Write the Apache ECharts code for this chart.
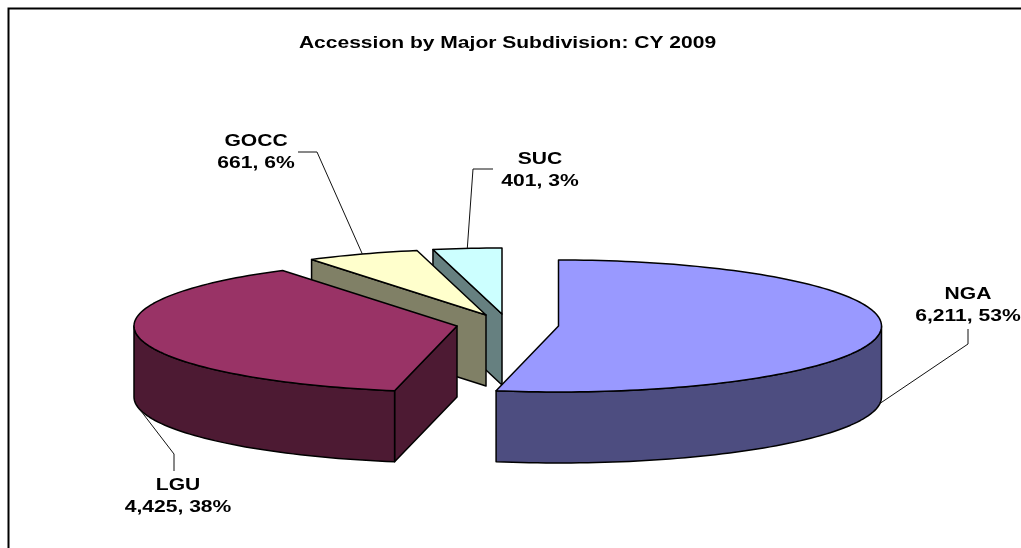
<!DOCTYPE html>
<html><head><meta charset="utf-8">
<style>html,body{margin:0;padding:0;background:#fff}#c{width:1021px;height:548px}</style>
<script src="https://cdn.jsdelivr.net/npm/echarts@6/dist/echarts.min.js"></script>
</head><body><div id="c"></div>
<script>
const titleText = 'Accession by Major Subdivision: CY 2009';
const categories = ['NGA', 'LGU', 'GOCC', 'SUC'];
const seriesValues = [6211, 4425, 661, 401];
const topColors = ['#9999FF', '#993366', '#FFFFCC', '#CCFFFF'];
const sideColors = ['#4D4D80', '#4D1A33', '#808066', '#668080'];

const layout = {
  rx: 323, ry: 66, depth: 71,
  centers: [[558.5, 326], [457, 326], [486, 315], [502, 314]],
  elbows: [[[968, 344], [968, 329]], [[174, 454], [174, 471]], [[317, 152], [298, 152]], [[473, 169], [493, 169]]],
  labels: [[968, 305], [178, 496], [256, 152], [540, 170]],
  drawOrder: [3, 2, 0, 1]
};
const total = seriesValues.reduce((a, b) => a + b, 0);
const starts = [];
seriesValues.reduce((acc, v, i) => { starts[i] = acc; return acc + v / total * 360; }, 0);
const rad = d => d * Math.PI / 180;

function pt(c, deg, dy) {
  return [c[0] + layout.rx * Math.sin(rad(deg)), c[1] - layout.ry * Math.cos(rad(deg)) + (dy || 0)];
}
function arcPts(c, a, b, dy) {
  const n = Math.max(2, Math.ceil(Math.abs(b - a) / 1.5));
  const out = [];
  for (let i = 0; i <= n; i++) out.push(pt(c, a + (b - a) * i / n, dy));
  return out;
}
const stroke = { stroke: '#000', lineWidth: 1.5, lineJoin: 'round' };

function renderItem(params, api) {
  const i = params.dataIndex;
  const a = starts[i], b = a + api.value(1) / total * 360;
  const c = layout.centers[i], d = layout.depth;
  const base = 10 + layout.drawOrder.indexOf(i) * 10;
  const kids = [];
  const poly = (points, fill, z) => kids.push({
    type: 'polygon', z2: base + z, shape: { points },
    style: Object.assign({ fill }, stroke)
  });
  const cbot = [c[0], c[1] + d];
  // radial cut faces that face the viewer
  if (Math.sin(rad(a)) < -1e-6) poly([c, pt(c, a), pt(c, a, d), cbot], sideColors[i], 1);
  if (Math.sin(rad(b % 360)) > 1e-6) poly([c, pt(c, b), pt(c, b, d), cbot], sideColors[i], 1);
  // outer rim
  const lo = Math.max(a, 90), hi = Math.min(b, 270);
  if (hi > lo) poly(arcPts(c, lo, hi, 0).concat(arcPts(c, hi, lo, d)), sideColors[i], 2);
  // top
  poly([c].concat(arcPts(c, a, b, 0)), topColors[i], 3);

  // leader line and label
  const mid = (a + b) / 2;
  const visibleRim = mid > 90 && mid < 270;
  const anchor = pt(c, mid, visibleRim ? d : 0);
  kids.push({
    type: 'polyline', z2: 100, shape: { points: [anchor].concat(layout.elbows[i]) },
    style: { fill: null, stroke: '#111', lineWidth: 1 }
  });
  const pct = Math.round(api.value(1) / total * 100);
  const l = layout.labels[i];
  kids.push({
    type: 'text', z2: 101, x: l[0], y: l[1], scaleX: 1.24,
    style: {
      text: categories[i] + '\n' + api.value(1).toLocaleString('en-US') + ', ' + pct + '%',
      fill: '#000', font: 'bold 17px "Liberation Sans", Arial, sans-serif',
      lineHeight: 22, align: 'center', verticalAlign: 'middle'
    }
  });
  return { type: 'group', children: kids };
}

const chart = echarts.init(document.getElementById('c'), null, { renderer: 'canvas' });
chart.setOption({
  animation: false,
  backgroundColor: '#fff',
  graphic: [
    { type: 'rect', z: 0, shape: { x: 8.5, y: 8.5, width: 1100, height: 600 },
      style: { fill: 'none', stroke: '#000', lineWidth: 2 } },
    { type: 'text', z: 5, x: 507.5, y: 43, scaleX: 1.237,
      style: { text: titleText, fill: '#000', align: 'center', verticalAlign: 'middle',
        font: 'bold 17px "Liberation Sans", Arial, sans-serif' } }
  ],
  series: [{
    type: 'custom',
    coordinateSystem: 'none',
    renderItem,
    silent: true,
    clip: false,
    encode: { value: 1 },
    data: categories.map((n, i) => [i, seriesValues[i]])
  }]
});
</script></body></html>
